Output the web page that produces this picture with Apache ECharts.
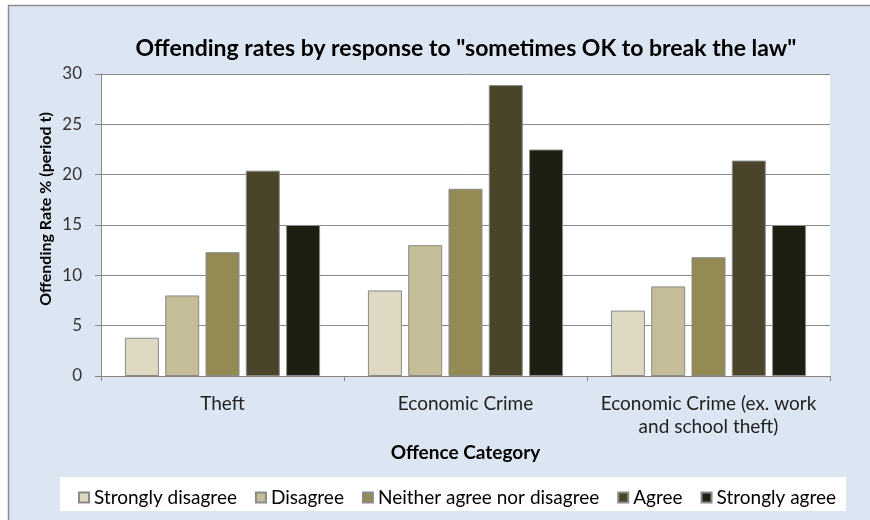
<!DOCTYPE html>
<html><head><meta charset="utf-8">
<script src="https://cdn.jsdelivr.net/npm/echarts@6/dist/echarts.min.js"></script>
<style>html,body{margin:0;padding:0;background:#fff}#c{width:870px;height:520px}</style>
</head><body><div id="c"></div>
<script>
const categories = ['Theft', 'Economic Crime', 'Economic Crime (ex. work\nand school theft)'];
const seriesNames = ['Strongly disagree', 'Disagree', 'Neither agree nor disagree', 'Agree', 'Strongly agree'];
const stronglyDisagree = [3.8, 8.5, 6.5];
const disagree = [8.0, 13.0, 8.9];
const neither = [12.3, 18.6, 11.8];
const agree = [20.4, 28.9, 21.4];
const stronglyAgree = [15.0, 22.5, 15.0];
const yTicks = [0, 5, 10, 15, 20, 25, 30];
const colors = ['#DDD9C3', '#C4BD97', '#948A54', '#4A452A', '#1F1E13'];
const values = [stronglyDisagree, disagree, neither, agree, stronglyAgree];
const FONT = 'Lato';

const chart = echarts.init(document.getElementById('c'), null, {renderer: 'canvas'});
chart.setOption({
  animation: false,
  backgroundColor: '#ffffff',
  graphic: [
    {type: 'rect', z: -10, shape: {x: 8.5, y: 5.5, width: 900, height: 600}, style: {fill: '#DCE6F2', stroke: '#8C8C8C', lineWidth: 1.5}},
    {type: 'rect', z: -5, shape: {x: 60, y: 477, width: 786, height: 34}, style: {fill: '#ffffff'}},
    {type: 'text', x: 46, y: 209, rotation: Math.PI / 2,
      style: {text: 'Offending Rate % (period t)', font: 'bold 16px ' + FONT, fill: '#000', textAlign: 'center', textVerticalAlign: 'middle'}}
  ],
  title: {
    text: 'Offending rates by response to "sometimes OK to break the law"',
    left: 461, top: 32, textAlign: 'center',
    textStyle: {fontFamily: FONT, fontWeight: 'bold', fontSize: 23, color: '#000'}
  },
  legend: {
    data: seriesNames,
    left: 73, top: 483,
    icon: 'rect', itemWidth: 10, itemHeight: 10, itemGap: 18,
    textStyle: {fontFamily: FONT, fontSize: 19, color: '#000'}
  },
  grid: {left: 101, right: 40, top: 74, bottom: 144, show: true, backgroundColor: '#ffffff', borderWidth: 0},
  xAxis: {
    type: 'category', data: categories,
    name: 'Offence Category', nameLocation: 'middle', nameGap: 61,
    nameTextStyle: {fontFamily: FONT, fontWeight: 'bold', fontSize: 19, color: '#000'},
    axisLine: {lineStyle: {color: '#868686', width: 1}},
    axisTick: {show: true, length: 5, lineStyle: {color: '#868686'}},
    axisLabel: {interval: 0, fontFamily: FONT, fontSize: 19, color: '#222', margin: 16, lineHeight: 23}
  },
  yAxis: {
    type: 'value', min: yTicks[0], max: yTicks[yTicks.length - 1], interval: 5,
    axisLine: {show: true, lineStyle: {color: '#868686', width: 1}},
    axisTick: {show: true, length: 6, lineStyle: {color: '#868686'}},
    axisLabel: {fontFamily: FONT, fontSize: 17, color: '#333', margin: 19},
    splitLine: {lineStyle: {color: '#8A8A8A', width: 1}}
  },
  series: seriesNames.map((n, i) => ({
    name: n, type: 'bar', data: values[i],
    barWidth: 34, barGap: '18.5%',
    itemStyle: {color: colors[i], borderColor: '#8A8A8A', borderWidth: 1}
  }))
});
</script></body></html>
